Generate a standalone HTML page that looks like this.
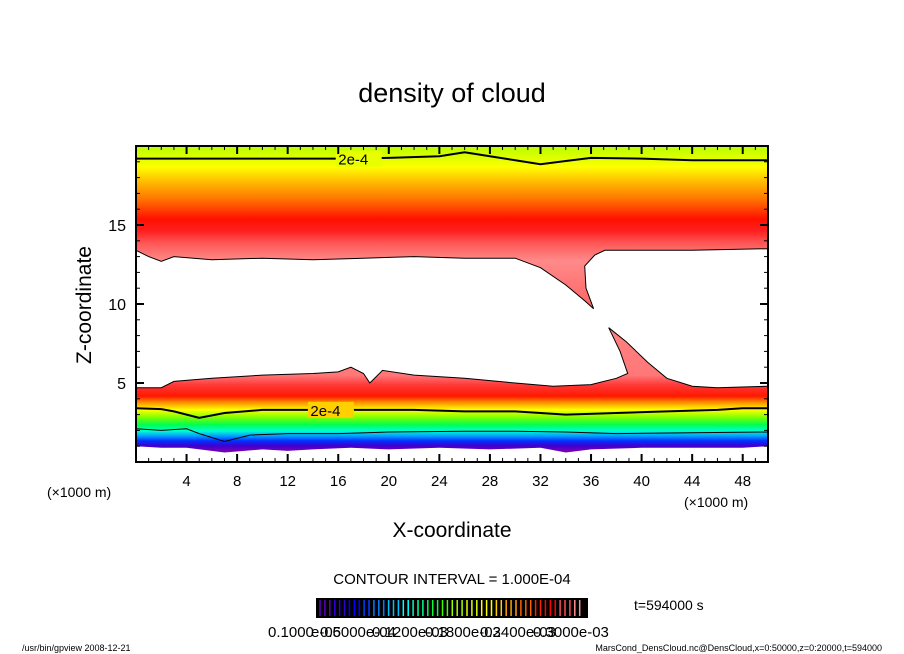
<!DOCTYPE html>
<html><head><meta charset="utf-8"><style>
body{margin:0;background:#fff;}
svg{display:block;font-family:"Liberation Sans","DejaVu Sans",sans-serif;}
</style></head><body>
<svg id="c" width="904" height="654" viewBox="0 0 904 654">
<defs>
<linearGradient id="gU" gradientUnits="userSpaceOnUse" x1="0" y1="146" x2="0" y2="320">
<stop offset="0" stop-color="#b8ff00"/><stop offset="0.07" stop-color="#e0ff00"/>
<stop offset="0.12" stop-color="#ffff00"/><stop offset="0.2" stop-color="#ffc000"/>
<stop offset="0.3" stop-color="#ff7800"/><stop offset="0.42" stop-color="#ff1000"/>
<stop offset="0.49" stop-color="#ff2020"/><stop offset="0.56" stop-color="#ff5858"/>
<stop offset="0.66" stop-color="#ff8a8a"/>
<stop offset="1" stop-color="#ff5a5a"/></linearGradient>
<linearGradient id="gL" gradientUnits="userSpaceOnUse" x1="0" y1="328" x2="0" y2="452">
<stop offset="0" stop-color="#ff8080"/><stop offset="0.38" stop-color="#ff7878"/>
<stop offset="0.46" stop-color="#ff3838"/><stop offset="0.55" stop-color="#ff1800"/>
<stop offset="0.6" stop-color="#ff9000"/><stop offset="0.66" stop-color="#ffff00"/>
<stop offset="0.72" stop-color="#80ff00"/><stop offset="0.78" stop-color="#00ff50"/>
<stop offset="0.83" stop-color="#00ffd0"/><stop offset="0.87" stop-color="#00a0ff"/>
<stop offset="0.91" stop-color="#0030ff"/><stop offset="0.95" stop-color="#4000d0"/>
<stop offset="1" stop-color="#8000b0"/></linearGradient>
</defs>
<g id="plot"></g>
<text x="452" y="102" text-anchor="middle" font-size="27">density of cloud</text>
<text transform="translate(91,305) rotate(-90)" text-anchor="middle" font-size="21">Z-coordinate</text>
<text x="452" y="537" text-anchor="middle" font-size="21">X-coordinate</text>
<text x="47" y="497" font-size="14">(×1000 m)</text>
<text x="684" y="507" font-size="14">(×1000 m)</text>
<text x="452" y="584" text-anchor="middle" font-size="15">CONTOUR INTERVAL = 1.000E-04</text>
<text x="634" y="610" font-size="14">t=594000 s</text>
<g id="cbar"></g>
<g font-size="15">
<text x="268" y="637">0.1000</text><text x="311" y="637">e-05</text><text x="320" y="637">0.6000e-04</text>
<text x="372" y="637">0.1200e-03</text><text x="425" y="637">0.1800e-03</text>
<text x="480" y="637">0.2400e-03</text><text x="533" y="637">0.3000e-03</text></g>
<text x="22" y="651" font-size="9">/usr/bin/gpview   2008-12-21</text>
<text x="882" y="651" font-size="9" text-anchor="end">MarsCond_DensCloud.nc@DensCloud,x=0:50000,z=0:20000,t=594000</text>
</svg>
<script>
const upperBottomX=[0,1,2,3,6,10,14,18,22,26,28,30,32,34,35.5,36.2,35.6,35.5,36.3,37.1,40,44,50];
const upperBottomZ=[13.4,13.0,12.7,13.0,12.8,12.9,12.8,12.9,13.0,12.9,12.9,12.9,12.3,11.2,10.2,9.7,11.0,12.4,13.1,13.4,13.4,13.4,13.5];
const lowerTopX=[0,2,3,6,10,14,16,17,18,18.5,19.5,22,26,30,33,36,38,38.9,38.3,37.4,38.8,40.5,42,44,46,50];
const lowerTopZ=[4.7,4.7,5.1,5.3,5.5,5.6,5.7,6.0,5.6,5.0,5.8,5.5,5.3,5.0,4.8,4.9,5.3,5.6,7.0,8.5,7.6,6.3,5.3,4.8,4.7,4.8];
const lowerBottomX=[0,2,4,7,10,12,14,17,20,24,28,32,34,36,40,44,48,50];
const lowerBottomZ=[1.0,0.9,0.9,0.6,0.8,0.7,0.8,0.9,0.8,0.9,0.8,0.9,0.6,0.8,0.9,0.9,0.9,1.0];
const topContourX=[0,4,8,12,16,20,24,26,28,30,32,34,36,40,44,50];
const topContourZ=[19.2,19.2,19.2,19.2,19.2,19.25,19.35,19.6,19.35,19.1,18.85,19.05,19.25,19.2,19.1,19.1];
const midContourX=[0,2,3,5,7,10,14,18,22,26,30,34,38,42,46,48,50];
const midContourZ=[3.4,3.35,3.2,2.8,3.1,3.3,3.3,3.3,3.3,3.2,3.2,3.0,3.1,3.2,3.3,3.4,3.4];
const lowContourX=[0,2,4,5,7,9,12,16,20,26,30,34,38,44,50];
const lowContourZ=[2.1,2.0,2.1,1.8,1.3,1.7,1.8,1.8,1.9,1.95,1.95,1.9,1.8,1.85,1.9];
const xTicks=[4,8,12,16,20,24,28,32,36,40,44,48];
const zTicks=[5,10,15];
const X0=136,X1=768,Y0=462,Y1=146;
const sx=x=>X0+(X1-X0)*x/50, sz=z=>Y0-(Y0-Y1)*z/20;
const NS='http://www.w3.org/2000/svg';
const plot=document.getElementById('plot');
function mk(t,a,p){const e=document.createElementNS(NS,t);for(const k in a)e.setAttribute(k,a[k]);(p||plot).appendChild(e);return e;}
function pts(xs,zs){return xs.map((x,i)=>sx(x).toFixed(1)+','+sz(zs[i]).toFixed(1));}
let up=[sx(0)+','+sz(20)].concat(pts(upperBottomX,upperBottomZ)).concat([sx(50)+','+sz(20)]);
let e=mk('polygon',{points:up.join(' '),fill:'url(#gU)'});


let lb=pts(lowerTopX,lowerTopZ).concat(pts(lowerBottomX,lowerBottomZ).reverse());
e=mk('polygon',{points:lb.join(' '),fill:'url(#gL)'});


e=mk('polyline',{points:pts(upperBottomX,upperBottomZ).join(' '),fill:'none',stroke:'#000','stroke-width':1});


e=mk('polyline',{points:pts(lowerTopX,lowerTopZ).join(' '),fill:'none',stroke:'#000','stroke-width':1});


e=mk('polyline',{points:pts(topContourX,topContourZ).join(' '),fill:'none',stroke:'#000','stroke-width':2});


e=mk('polyline',{points:pts(midContourX,midContourZ).join(' '),fill:'none',stroke:'#000','stroke-width':2});


e=mk('polyline',{points:pts(lowContourX,lowContourZ).join(' '),fill:'none',stroke:'#000','stroke-width':1});


e=mk('rect',{x:sx(15.8),y:sz(19.2)-8,width:46,height:16,fill:'#e8ff00'});


e=mk('text',{x:sx(16),y:sz(19.2)+6,'font-size':15});e.textContent='2e-4';


e=mk('rect',{x:sx(13.6),y:sz(3.3)-8,width:46,height:16,fill:'#ffd000'});


e=mk('text',{x:sx(13.8),y:sz(3.3)+6,'font-size':15});e.textContent='2e-4';


e=mk('rect',{x:X0,y:Y1,width:X1-X0,height:Y0-Y1,fill:'none',stroke:'#000','stroke-width':2});


for(let x=1;x<50;x++){const maj=x%4==0,l=maj?8:4;
 mk('line',{x1:sx(x),x2:sx(x),y1:Y0,y2:Y0-l,stroke:'#000','stroke-width':maj?2:1});
 mk('line',{x1:sx(x),x2:sx(x),y1:Y1,y2:Y1+l,stroke:'#000','stroke-width':maj?2:1});}
for(let z=1;z<20;z++){const maj=z%5==0,l=maj?8:4;
 mk('line',{x1:X0,x2:X0+l,y1:sz(z),y2:sz(z),stroke:'#000','stroke-width':maj?2:1});
 mk('line',{x1:X1,x2:X1-l,y1:sz(z),y2:sz(z),stroke:'#000','stroke-width':maj?2:1});}
xTicks.forEach(v=>{const t=mk('text',{x:sx(v),y:486,'font-size':15,'text-anchor':'middle'});t.textContent=v;

});
zTicks.forEach(v=>{const t=mk('text',{x:126,y:sz(v)+6,'font-size':16,'text-anchor':'end'});t.textContent=v;

});
const cb=document.getElementById('cbar');
mk('rect',{x:316,y:598,width:272,height:20,fill:'#000'},cb);
const cols=['#6000c0','#3000d0','#0000ff','#0040ff','#0080ff','#00c0ff','#00ffff','#00ffa0','#00ff40','#40ff00','#a0ff00','#e0ff00','#ffff00','#ffd000','#ffa000','#ff6000','#ff2000','#ff0000','#ff5050','#ff9090'];
for(let i=0;i<54;i++){mk('line',{x1:320+i*4.9,x2:320+i*4.9,y1:600,y2:616,stroke:cols[Math.floor(i*cols.length/54)],'stroke-width':1.5},cb);}
</script>
</body></html>
